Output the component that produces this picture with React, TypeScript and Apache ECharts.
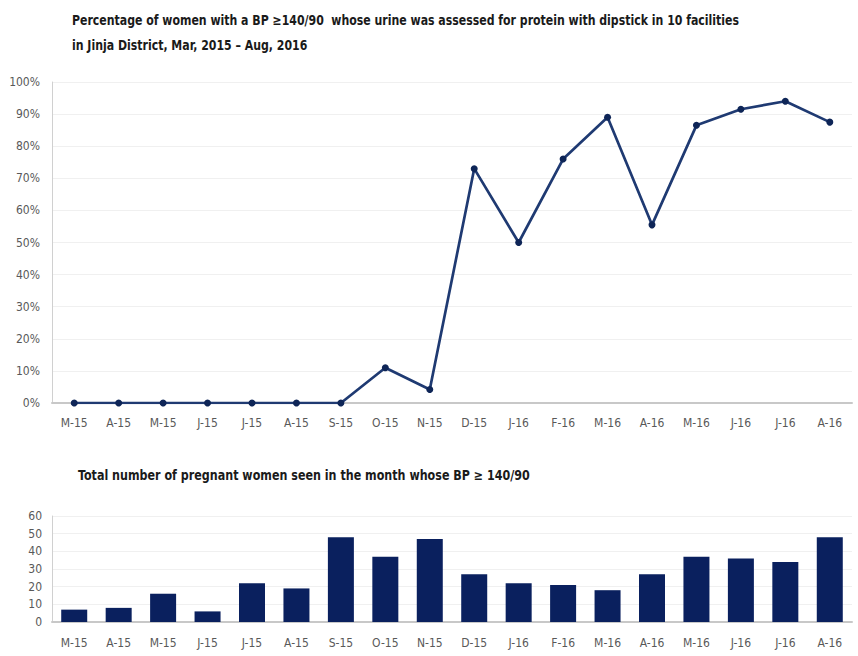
import React, { useEffect, useRef } from "react";
import * as echarts from "echarts";

const months = ["M-15","A-15","M-15","J-15","J-15","A-15","S-15","O-15","N-15","D-15","J-16","F-16","M-16","A-16","M-16","J-16","J-16","A-16"];
const pctAssessed = [0,0,0,0,0,0,0,11,4.2,73,50,76,89,55.5,86.5,91.5,94,87.5];
const womenCount = [7,8,16,6,22,19,48,37,47,27,22,21,18,27,37,36,34,48];
const titleTop = "Percentage of women with a BP \u2265140/90  whose urine was assessed for protein with dipstick in 10 facilities";
const titleTop2 = "in Jinja District, Mar, 2015 \u2013 Aug, 2016";
const titleBottom = "Total number of pregnant women seen in the month whose BP \u2265 140/90";

const FONT = "'DejaVu Sans Condensed', 'Open Sans', sans-serif";

export default function App() {
  const ref = useRef<HTMLDivElement>(null);
  useEffect(() => {
    if (!ref.current) return;
    const chart = echarts.init(ref.current, undefined, { renderer: "svg" });
    const labelStyle = { color: "#595959", fontSize: 12, fontFamily: FONT };
    const titleStyle = { fontFamily: FONT, fontWeight: "bold", fontSize: 14, fill: "#1a1a1a", verticalAlign: "middle" };
    chart.setOption({
      animation: false,
      backgroundColor: "#ffffff",
      graphic: [
        { type: "text", x: 72, y: 20, scaleX: 0.87, style: { ...titleStyle, text: titleTop } },
        { type: "text", x: 72, y: 45, scaleX: 0.87, style: { ...titleStyle, text: titleTop2 } },
        { type: "text", x: 78, y: 475, scaleX: 0.885, style: { ...titleStyle, text: titleBottom } },
      ],
      grid: [
        { left: 52, top: 82, width: 800, height: 321, containLabel: false },
        { left: 52, top: 516, width: 800, height: 106, containLabel: false },
      ],
      xAxis: [
        {
          type: "category", gridIndex: 0, data: months,
          axisLine: { lineStyle: { color: "#c8c8c8", width: 2 } },
          axisTick: { show: false },
          axisLabel: { ...labelStyle, margin: 14 },
        },
        {
          type: "category", gridIndex: 1, data: months,
          axisLine: { lineStyle: { color: "#c8c8c8", width: 2 } },
          axisTick: { show: false },
          axisLabel: { ...labelStyle, margin: 15 },
        },
      ],
      yAxis: [
        {
          type: "value", gridIndex: 0, min: 0, max: 100, interval: 10,
          axisLine: { show: true, lineStyle: { color: "#d0d0d0", width: 1 } },
          axisTick: { show: false },
          splitLine: { lineStyle: { color: "#f0f0f0" } },
          axisLabel: { ...labelStyle, margin: 12, formatter: (v: number) => v + "%" },
        },
        {
          type: "value", gridIndex: 1, min: 0, max: 60, interval: 10,
          axisLine: { show: true, lineStyle: { color: "#d0d0d0", width: 1 } },
          axisTick: { show: false },
          splitLine: { lineStyle: { color: "#f0f0f0" } },
          axisLabel: { ...labelStyle, margin: 10, lineHeight: 12 },
        },
      ],
      series: [
        {
          type: "line", xAxisIndex: 0, yAxisIndex: 0, data: pctAssessed,
          symbol: "circle", symbolSize: 7,
          lineStyle: { color: "#1f3a72", width: 2.7 },
          itemStyle: { color: "#0e2557" },
        },
        {
          type: "bar", xAxisIndex: 1, yAxisIndex: 1, data: womenCount,
          barWidth: 26,
          itemStyle: { color: "#0a205e" },
        },
      ],
    });
    return () => chart.dispose();
  }, []);
  return <div ref={ref} style={{ position: "fixed", left: 0, top: 0, width: 858, height: 656 }} />;
}
